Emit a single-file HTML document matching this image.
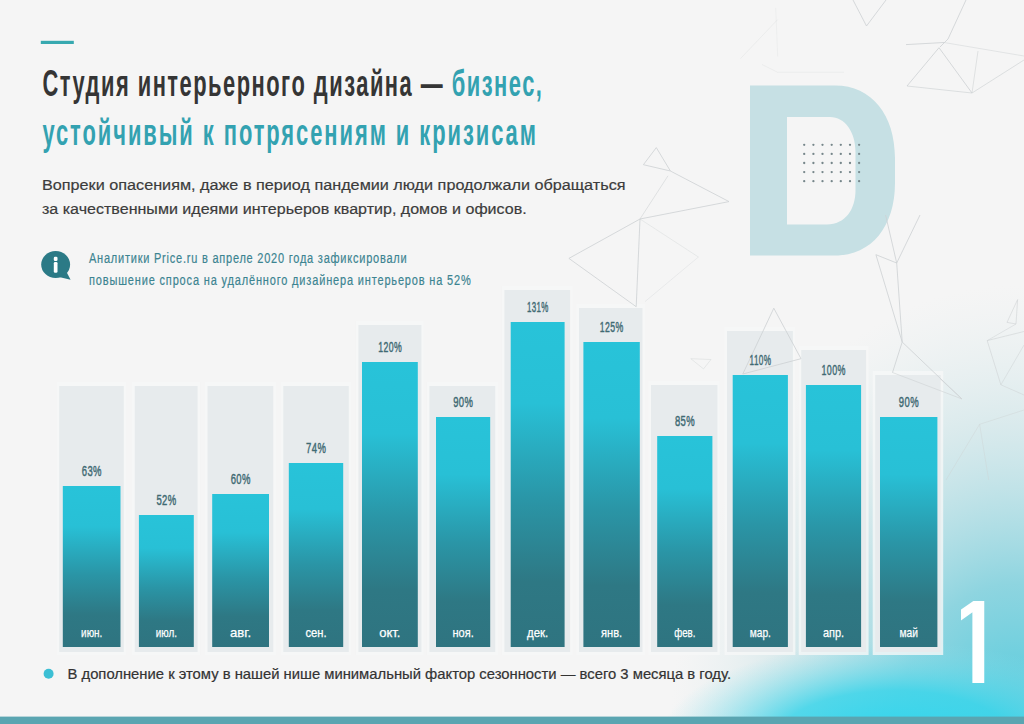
<!DOCTYPE html>
<html lang="ru"><head><meta charset="utf-8"><title>Студия интерьерного дизайна</title>
<style>
html,body{margin:0;padding:0;background:#f5f5f5;}
body{width:1024px;height:724px;overflow:hidden;position:relative;}
svg{display:block;position:absolute;left:0;top:0;}
text{font-family:"Liberation Sans",Arial,sans-serif;}
</style></head><body>
<svg width="1024" height="724" viewBox="0 0 1024 724">
<defs>
<linearGradient id="bar" x1="0" y1="0" x2="0" y2="1">
<stop offset="0" stop-color="#28c3d9"/>
<stop offset="0.25" stop-color="#28c0d6"/>
<stop offset="0.55" stop-color="#2a95a6"/>
<stop offset="0.8" stop-color="#2e7884"/>
<stop offset="1" stop-color="#2f7480"/>
</linearGradient>
<radialGradient id="glowA" cx="1015" cy="745" r="460" gradientUnits="userSpaceOnUse" gradientTransform="translate(1015 745) scale(0.75 1) translate(-1015 -745)">
<stop offset="0" stop-color="#45c9dd" stop-opacity="1"/>
<stop offset="0.35" stop-color="#7ccfdc" stop-opacity="0.85"/>
<stop offset="0.7" stop-color="#b9dde2" stop-opacity="0.45"/>
<stop offset="1" stop-color="#d9e9eb" stop-opacity="0"/>
</radialGradient>
<radialGradient id="glowB" cx="895" cy="740" r="235" gradientUnits="userSpaceOnUse" gradientTransform="translate(895 740) scale(1 0.42) translate(-895 -740)">
<stop offset="0" stop-color="#30d6ee" stop-opacity="1"/>
<stop offset="0.5" stop-color="#3dd5ea" stop-opacity="0.85"/>
<stop offset="1" stop-color="#8fe0ec" stop-opacity="0"/>
</radialGradient>
</defs>
<rect width="1024" height="724" fill="#f5f5f5"/>
<rect width="1024" height="724" fill="url(#glowA)"/>
<rect width="1024" height="724" fill="url(#glowB)"/>

<path fill="#c6e0e4" fill-rule="evenodd" d="M750,85.4 H835 C872,85.4 895,115 895,158 V183 C895,226 872,255.5 835,255.5 H750 Z M787,117 V224.4 H827 C845,224.4 855.5,210 855.5,190 V152 C855.5,132 845,117 830,117 Z"/>
<g fill="#76868a">
<circle cx="804.2" cy="144.8" r="1.15"/>
<circle cx="813.4" cy="144.8" r="1.15"/>
<circle cx="822.5" cy="144.8" r="1.15"/>
<circle cx="831.7" cy="144.8" r="1.15"/>
<circle cx="840.8" cy="144.8" r="1.15"/>
<circle cx="850.0" cy="144.8" r="1.15"/>
<circle cx="859.1" cy="144.8" r="1.15"/>
<circle cx="804.2" cy="153.9" r="1.15"/>
<circle cx="813.4" cy="153.9" r="1.15"/>
<circle cx="822.5" cy="153.9" r="1.15"/>
<circle cx="831.7" cy="153.9" r="1.15"/>
<circle cx="840.8" cy="153.9" r="1.15"/>
<circle cx="850.0" cy="153.9" r="1.15"/>
<circle cx="859.1" cy="153.9" r="1.15"/>
<circle cx="804.2" cy="163.0" r="1.15"/>
<circle cx="813.4" cy="163.0" r="1.15"/>
<circle cx="822.5" cy="163.0" r="1.15"/>
<circle cx="831.7" cy="163.0" r="1.15"/>
<circle cx="840.8" cy="163.0" r="1.15"/>
<circle cx="850.0" cy="163.0" r="1.15"/>
<circle cx="859.1" cy="163.0" r="1.15"/>
<circle cx="804.2" cy="172.1" r="1.15"/>
<circle cx="813.4" cy="172.1" r="1.15"/>
<circle cx="822.5" cy="172.1" r="1.15"/>
<circle cx="831.7" cy="172.1" r="1.15"/>
<circle cx="840.8" cy="172.1" r="1.15"/>
<circle cx="850.0" cy="172.1" r="1.15"/>
<circle cx="859.1" cy="172.1" r="1.15"/>
<circle cx="804.2" cy="181.2" r="1.15"/>
<circle cx="813.4" cy="181.2" r="1.15"/>
<circle cx="822.5" cy="181.2" r="1.15"/>
<circle cx="831.7" cy="181.2" r="1.15"/>
<circle cx="840.8" cy="181.2" r="1.15"/>
<circle cx="850.0" cy="181.2" r="1.15"/>
<circle cx="859.1" cy="181.2" r="1.15"/>
</g>
<rect x="40.8" y="40.8" width="33" height="3.2" fill="#37a9b0"/>
<text transform="translate(42.40 96.00) scale(0.6 1)" x="0" y="0" font-size="36.5" textLength="832.50" lengthAdjust="spacing" fill="#353535" font-weight="bold">Студия интерьерного дизайна — <tspan fill="#33a2b1">бизнес,</tspan></text>
<text transform="translate(42.40 145.30) scale(0.6 1)" x="0" y="0" font-size="36.5" textLength="822.50" lengthAdjust="spacing" fill="#33a2b1" font-weight="bold">устойчивый к потрясениям и кризисам</text>
<g fill="#3c3c3c" stroke="#3c3c3c" stroke-width="0.2">
<text x="42" y="189.7" font-size="15.5" textLength="583.5" lengthAdjust="spacingAndGlyphs">Вопреки опасениям, даже в период пандемии люди продолжали обращаться</text>
<text x="42" y="214" font-size="15.5" textLength="484.7" lengthAdjust="spacingAndGlyphs">за качественными идеями интерьеров квартир, домов и офисов.</text>
</g>
<g><ellipse cx="55.65" cy="264.5" rx="14.45" ry="13.6" fill="#2b7a86"/><path d="M59,277 L70.6,279.8 L66.8,272.5 Z" fill="#2b7a86"/><rect x="53.8" y="256.8" width="3.7" height="4.3" rx="1.3" fill="#fff"/><rect x="53.8" y="261.9" width="3.7" height="10.9" rx="1.3" fill="#fff"/></g>
<g fill="#3c8491" stroke="#3c8491" stroke-width="0.2">
<text transform="translate(89.00 263.20) scale(0.76 1)" x="0" y="0" font-size="14.5" textLength="418.03" lengthAdjust="spacing" >Аналитики Price.ru в апреле 2020 года зафиксировали</text>
<text transform="translate(89.00 285.00) scale(0.76 1)" x="0" y="0" font-size="14.5" textLength="502.37" lengthAdjust="spacing" >повышение спроса на удалённого дизайнера интерьеров на 52%</text>
</g>
<rect x="56.7" y="382" width="69.6" height="273" fill="#f6f7f8" opacity="0.8"/>
<rect x="59.2" y="386" width="64.6" height="266" fill="#e7ebed"/>
<rect x="132.3" y="382" width="67.79999999999998" height="273" fill="#f6f7f8" opacity="0.8"/>
<rect x="134.8" y="386" width="62.8" height="266" fill="#e7ebed"/>
<rect x="205.0" y="382" width="70.80000000000001" height="273" fill="#f6f7f8" opacity="0.8"/>
<rect x="207.5" y="386" width="65.8" height="266" fill="#e7ebed"/>
<rect x="280.8" y="382" width="70.5" height="273" fill="#f6f7f8" opacity="0.8"/>
<rect x="283.3" y="386" width="65.5" height="266" fill="#e7ebed"/>
<rect x="355.9" y="321" width="68.0" height="334" fill="#f6f7f8" opacity="0.8"/>
<rect x="358.4" y="325" width="63.0" height="327" fill="#e7ebed"/>
<rect x="426.9" y="382" width="70.80000000000001" height="273" fill="#f6f7f8" opacity="0.8"/>
<rect x="429.4" y="386" width="65.8" height="266" fill="#e7ebed"/>
<rect x="501.9" y="286" width="70.70000000000005" height="369" fill="#f6f7f8" opacity="0.8"/>
<rect x="504.4" y="290" width="65.7" height="362" fill="#e7ebed"/>
<rect x="576.5" y="304" width="68.5" height="351" fill="#f6f7f8" opacity="0.8"/>
<rect x="579.0" y="308" width="63.5" height="344" fill="#e7ebed"/>
<rect x="648.5" y="381" width="71.39999999999998" height="274" fill="#f6f7f8" opacity="0.8"/>
<rect x="651.0" y="385" width="66.4" height="267" fill="#e7ebed"/>
<rect x="724.5" y="327" width="70.89999999999998" height="328" fill="#f6f7f8" opacity="0.8"/>
<rect x="727.0" y="331" width="65.9" height="321" fill="#e7ebed"/>
<rect x="798.7" y="346" width="69.89999999999998" height="309" fill="#f6f7f8" opacity="0.8"/>
<rect x="801.2" y="350" width="64.9" height="302" fill="#e7ebed"/>
<rect x="872.7" y="371" width="70.5" height="284" fill="#f6f7f8" opacity="0.8"/>
<rect x="875.2" y="375" width="65.5" height="277" fill="#e7ebed"/>
<g stroke="#cdd1d3" stroke-width="0.8" fill="none">
<line x1="853" y1="0" x2="866.5" y2="26"/>
<line x1="866.5" y1="26" x2="886" y2="0"/>
<line x1="966" y1="0" x2="948" y2="39"/>
<line x1="948" y1="39" x2="940" y2="47"/>
<line x1="906" y1="44.6" x2="944" y2="42.5"/>
<line x1="944" y1="42.5" x2="1024" y2="56" opacity="0.6"/>
<line x1="939" y1="47.7" x2="907" y2="86"/>
<line x1="939" y1="47.7" x2="972" y2="93"/>
<line x1="907" y1="86" x2="972" y2="93" opacity="0.8"/>
<line x1="972" y1="93" x2="978" y2="51" opacity="0.7"/>
<line x1="972" y1="93" x2="1024" y2="60" opacity="0.8"/>
<line x1="656.3" y1="147.6" x2="643.4" y2="164.7"/>
<line x1="643.4" y1="164.7" x2="670.4" y2="171"/>
<line x1="656.3" y1="147.6" x2="670.4" y2="171"/>
<line x1="670.4" y1="171" x2="729" y2="201.6"/>
<line x1="729" y1="201.6" x2="640" y2="219"/>
<line x1="668" y1="175.8" x2="640" y2="219" opacity="0.7"/>
<line x1="640" y1="219" x2="568.9" y2="258.4"/>
<line x1="568.9" y1="258.4" x2="636.2" y2="306.7"/>
<line x1="640" y1="219" x2="636.2" y2="306.7"/>
<line x1="640" y1="219" x2="698.4" y2="257" opacity="0.45"/>
<line x1="698.4" y1="257" x2="645" y2="301.6" opacity="0.4"/>
<line x1="690.8" y1="358.7" x2="711" y2="359.5" opacity="0.5"/>
<line x1="711" y1="359.5" x2="703.5" y2="368.9" opacity="0.5"/>
<line x1="690.8" y1="358.7" x2="703.5" y2="368.9" opacity="0.5"/>
<line x1="773.8" y1="308.2" x2="801" y2="358.7"/>
<line x1="773.8" y1="308.2" x2="742.8" y2="374"/>
<line x1="801" y1="358.7" x2="742.8" y2="374"/>
<line x1="885.6" y1="215" x2="896.7" y2="263"/>
<line x1="920" y1="215" x2="896.7" y2="263"/>
<line x1="875.9" y1="254.7" x2="896.7" y2="263"/>
<line x1="875.9" y1="254.7" x2="902.2" y2="342"/>
<line x1="896.7" y1="263" x2="902.2" y2="342"/>
<line x1="902.2" y1="342" x2="892.5" y2="372.5"/>
<line x1="902.2" y1="342" x2="961.8" y2="398.9"/>
<line x1="892.5" y1="372.5" x2="961.8" y2="398.9" opacity="0.7"/>
<line x1="1017.6" y1="299.6" x2="1007" y2="322.4" opacity="0.7"/>
<line x1="1007" y1="322.4" x2="1016" y2="324" opacity="0.7"/>
<line x1="1017.6" y1="299.6" x2="1016" y2="324" opacity="0.7"/>
<line x1="987.2" y1="340.6" x2="1024" y2="331.5" opacity="0.7"/>
<line x1="987.2" y1="340.6" x2="1000.9" y2="384.8" opacity="0.7"/>
<line x1="1000.9" y1="384.8" x2="1024" y2="395" opacity="0.6"/>
<line x1="1000.9" y1="384.8" x2="1024" y2="345" opacity="0.6"/>
<line x1="987.2" y1="340.6" x2="1016" y2="324" opacity="0.6"/>
<line x1="940" y1="378.7" x2="961.8" y2="398.9" opacity="0.6"/>
<line x1="740.5" y1="58.6" x2="777.7" y2="19.5" opacity="0.3"/>
<line x1="775.7" y1="7.8" x2="777.7" y2="56.6" opacity="0.25"/>
<line x1="762" y1="64.5" x2="777.7" y2="72.3" opacity="0.3"/>
<line x1="777.7" y1="72.3" x2="844" y2="72.3" opacity="0.3"/>
<line x1="979.6" y1="424.3" x2="946" y2="480" opacity="0.5"/>
<line x1="979.6" y1="424.3" x2="988.7" y2="480" opacity="0.5"/>
<line x1="979.6" y1="424.3" x2="1024" y2="410" opacity="0.5"/>
</g>
<rect x="62.8" y="486" width="57.7" height="161" fill="url(#bar)"/>
<text transform="translate(81.75 475.50) scale(0.6547 1)" x="0" y="0" font-size="14.5" textLength="30.24" lengthAdjust="spacing" fill="#3f6a73" stroke="#3f6a73" stroke-width="0.45">63%</text>
<text x="91.7" y="637.3" font-size="13" fill="#ffffff" stroke="#ffffff" stroke-width="0.25" text-anchor="middle" textLength="21.2" lengthAdjust="spacingAndGlyphs">июн.</text>
<rect x="138.9" y="515" width="54.9" height="132" fill="url(#bar)"/>
<text transform="translate(156.45 504.50) scale(0.6547 1)" x="0" y="0" font-size="14.5" textLength="30.24" lengthAdjust="spacing" fill="#3f6a73" stroke="#3f6a73" stroke-width="0.45">52%</text>
<text x="166.4" y="637.3" font-size="13" fill="#ffffff" stroke="#ffffff" stroke-width="0.25" text-anchor="middle" textLength="21.2" lengthAdjust="spacingAndGlyphs">июл.</text>
<rect x="212.2" y="494" width="56.8" height="153" fill="url(#bar)"/>
<text transform="translate(230.70 483.50) scale(0.6547 1)" x="0" y="0" font-size="14.5" textLength="30.24" lengthAdjust="spacing" fill="#3f6a73" stroke="#3f6a73" stroke-width="0.45">60%</text>
<text x="240.6" y="637.3" font-size="13" fill="#ffffff" stroke="#ffffff" stroke-width="0.25" text-anchor="middle" textLength="21.2" lengthAdjust="spacingAndGlyphs">авг.</text>
<rect x="288.8" y="463" width="54.4" height="184" fill="url(#bar)"/>
<text transform="translate(306.10 452.50) scale(0.6547 1)" x="0" y="0" font-size="14.5" textLength="30.24" lengthAdjust="spacing" fill="#3f6a73" stroke="#3f6a73" stroke-width="0.45">74%</text>
<text x="316.0" y="637.3" font-size="13" fill="#ffffff" stroke="#ffffff" stroke-width="0.25" text-anchor="middle" textLength="21.2" lengthAdjust="spacingAndGlyphs">сен.</text>
<rect x="362.0" y="362" width="55.8" height="285" fill="url(#bar)"/>
<text transform="translate(378.15 351.50) scale(0.6013 1)" x="0" y="0" font-size="14.5" textLength="39.08" lengthAdjust="spacing" fill="#3f6a73" stroke="#3f6a73" stroke-width="0.45">120%</text>
<text x="389.9" y="637.3" font-size="13" fill="#ffffff" stroke="#ffffff" stroke-width="0.25" text-anchor="middle" textLength="21.2" lengthAdjust="spacingAndGlyphs">окт.</text>
<rect x="436.0" y="417" width="54.2" height="230" fill="url(#bar)"/>
<text transform="translate(453.20 406.50) scale(0.6547 1)" x="0" y="0" font-size="14.5" textLength="30.24" lengthAdjust="spacing" fill="#3f6a73" stroke="#3f6a73" stroke-width="0.45">90%</text>
<text x="463.1" y="637.3" font-size="13" fill="#ffffff" stroke="#ffffff" stroke-width="0.25" text-anchor="middle" textLength="21.2" lengthAdjust="spacingAndGlyphs">ноя.</text>
<rect x="510.7" y="322" width="53.9" height="325" fill="url(#bar)"/>
<text transform="translate(526.90 311.50) scale(0.5474 1)" x="0" y="0" font-size="14.5" textLength="39.28" lengthAdjust="spacing" fill="#3f6a73" stroke="#3f6a73" stroke-width="0.45">131%</text>
<text x="537.6" y="637.3" font-size="13" fill="#ffffff" stroke="#ffffff" stroke-width="0.25" text-anchor="middle" textLength="21.2" lengthAdjust="spacingAndGlyphs">дек.</text>
<rect x="583.4" y="342" width="56.4" height="305" fill="url(#bar)"/>
<text transform="translate(599.85 331.50) scale(0.6013 1)" x="0" y="0" font-size="14.5" textLength="39.08" lengthAdjust="spacing" fill="#3f6a73" stroke="#3f6a73" stroke-width="0.45">125%</text>
<text x="611.6" y="637.3" font-size="13" fill="#ffffff" stroke="#ffffff" stroke-width="0.25" text-anchor="middle" textLength="21.2" lengthAdjust="spacingAndGlyphs">янв.</text>
<rect x="657.2" y="436" width="55.2" height="211" fill="url(#bar)"/>
<text transform="translate(674.90 425.50) scale(0.6547 1)" x="0" y="0" font-size="14.5" textLength="30.24" lengthAdjust="spacing" fill="#3f6a73" stroke="#3f6a73" stroke-width="0.45">85%</text>
<text x="684.8" y="637.3" font-size="13" fill="#ffffff" stroke="#ffffff" stroke-width="0.25" text-anchor="middle" textLength="21.2" lengthAdjust="spacingAndGlyphs">фев.</text>
<rect x="732.7" y="375" width="55.2" height="272" fill="url(#bar)"/>
<text transform="translate(749.55 364.50) scale(0.5638 1)" x="0" y="0" font-size="14.5" textLength="38.13" lengthAdjust="spacing" fill="#3f6a73" stroke="#3f6a73" stroke-width="0.45">110%</text>
<text x="760.3" y="637.3" font-size="13" fill="#ffffff" stroke="#ffffff" stroke-width="0.25" text-anchor="middle" textLength="21.2" lengthAdjust="spacingAndGlyphs">мар.</text>
<rect x="805.9" y="385" width="55.2" height="262" fill="url(#bar)"/>
<text transform="translate(821.50 374.50) scale(0.6148 1)" x="0" y="0" font-size="14.5" textLength="39.04" lengthAdjust="spacing" fill="#3f6a73" stroke="#3f6a73" stroke-width="0.45">100%</text>
<text x="833.5" y="637.3" font-size="13" fill="#ffffff" stroke="#ffffff" stroke-width="0.25" text-anchor="middle" textLength="21.2" lengthAdjust="spacingAndGlyphs">апр.</text>
<rect x="880.0" y="417" width="57.4" height="230" fill="url(#bar)"/>
<text transform="translate(898.80 406.50) scale(0.6547 1)" x="0" y="0" font-size="14.5" textLength="30.24" lengthAdjust="spacing" fill="#3f6a73" stroke="#3f6a73" stroke-width="0.45">90%</text>
<text x="908.7" y="637.3" font-size="13" fill="#ffffff" stroke="#ffffff" stroke-width="0.25" text-anchor="middle" textLength="18.5" lengthAdjust="spacingAndGlyphs">май</text>
<circle cx="48.6" cy="673.8" r="5" fill="#3cbfd4"/>
<text x="67.5" y="679.1" font-size="14.8" fill="#333" stroke="#333" stroke-width="0.2" textLength="663.5" lengthAdjust="spacingAndGlyphs">В дополнение к этому в нашей нише минимальный фактор сезонности — всего 3 месяца в году.</text>
<clipPath id="c1"><rect x="961" y="590" width="25" height="93"/></clipPath>
<text x="938.9" y="692.9" font-size="133" fill="#ffffff" clip-path="url(#c1)">1</text>
<rect x="0" y="716.6" width="1024" height="8" fill="#5aa5b1"/>
</svg></body></html>
